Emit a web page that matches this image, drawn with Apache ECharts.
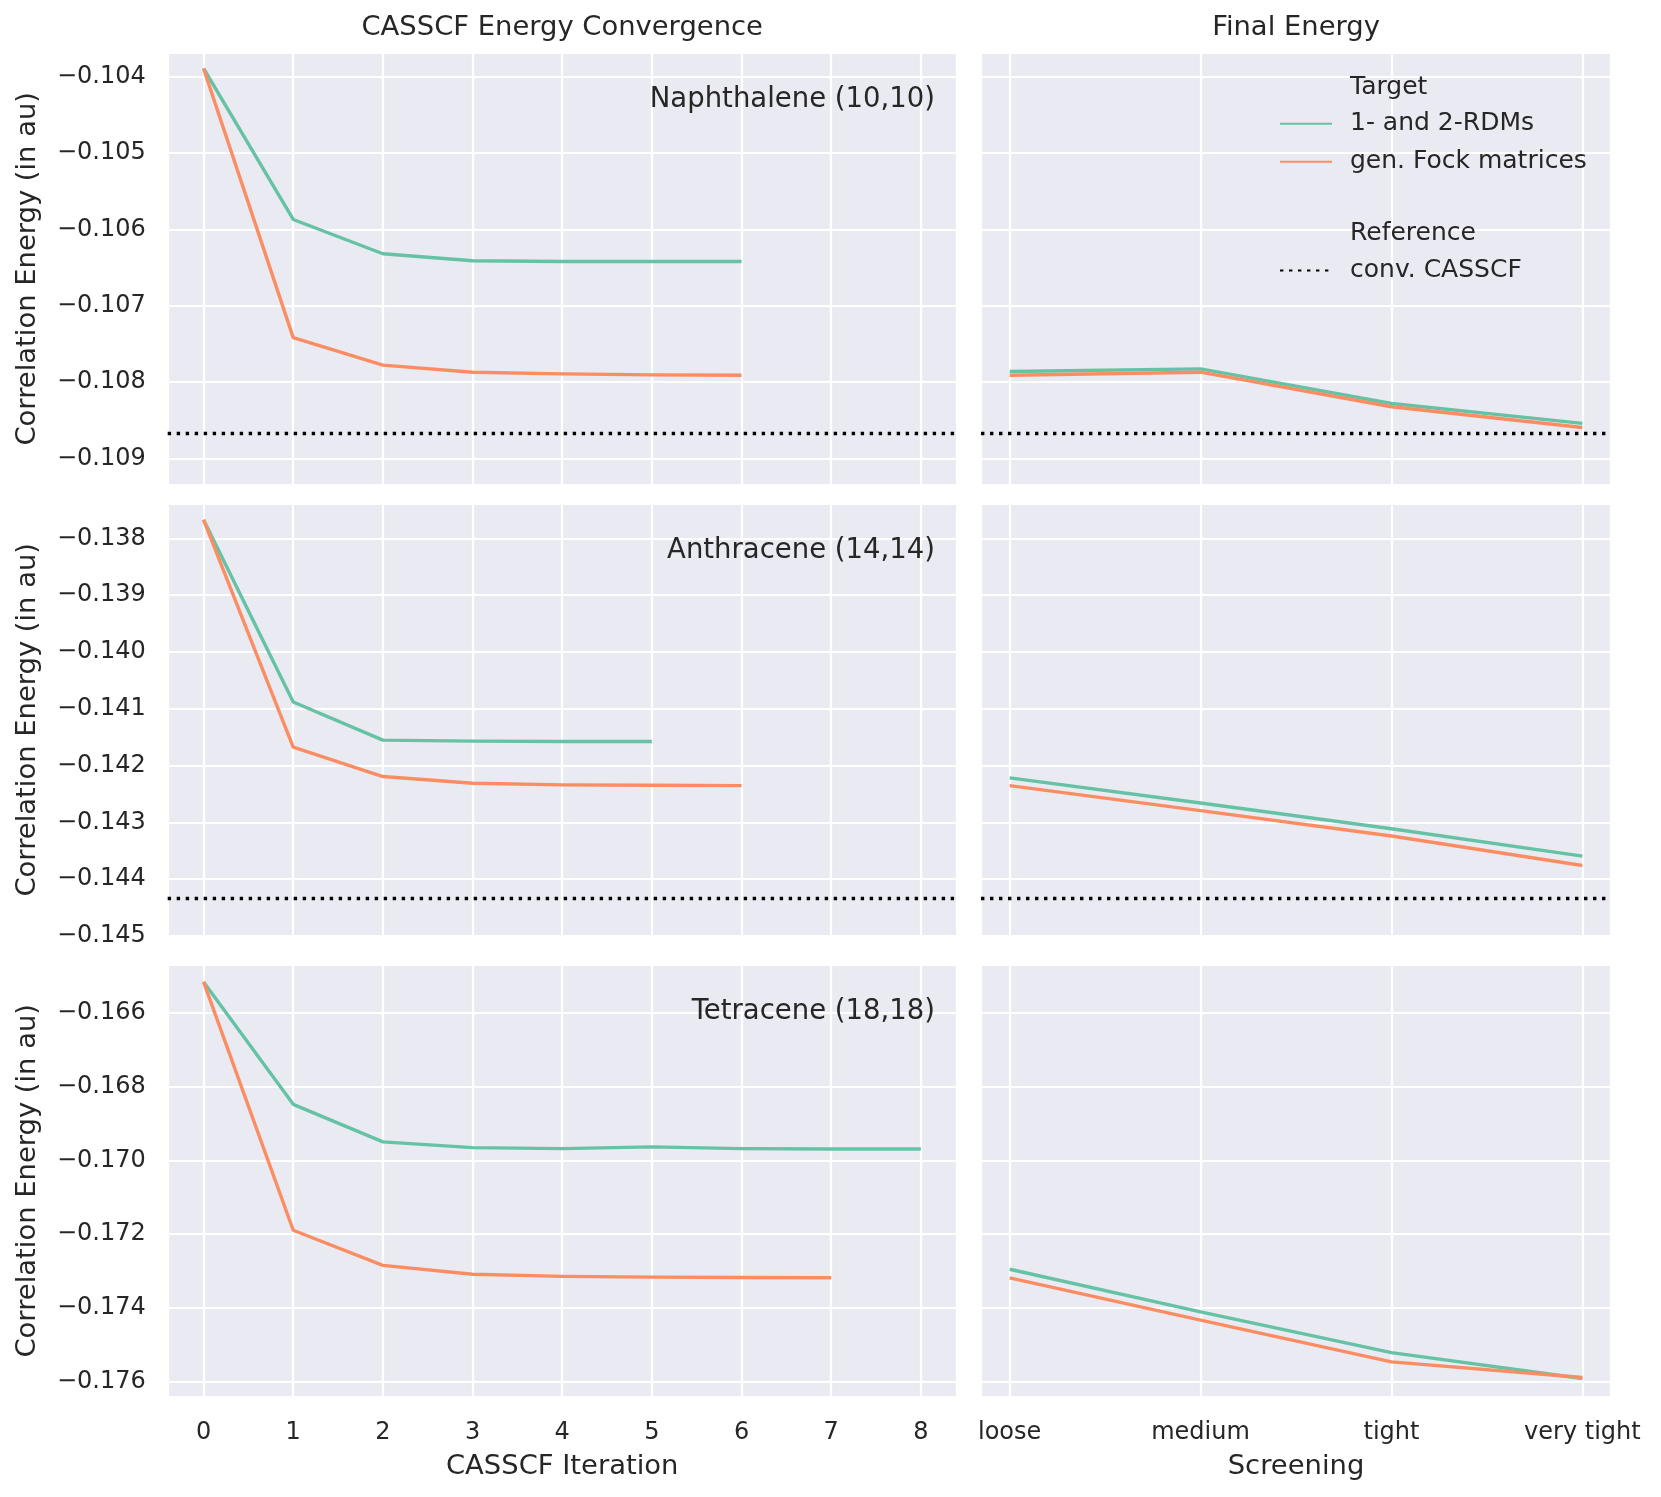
<!DOCTYPE html>
<html><head><meta charset="utf-8">
<script src="https://cdn.jsdelivr.net/npm/echarts@6/dist/echarts.min.js"></script>
<style>html,body{margin:0;padding:0;background:#fff}#c{width:1661px;height:1497px}</style>
</head><body><div id="c"></div>
<script>
// ---------------- data ----------------
const systems = ['Naphthalene (10,10)', 'Anthracene (14,14)', 'Tetracene (18,18)'];
const screening = ['loose', 'medium', 'tight', 'very tight'];
const seriesNames = ['1- and 2-RDMs', 'gen. Fock matrices'];
const refName = 'conv. CASSCF';

// CASSCF convergence (index = iteration)
const naphRDM  = [-0.103891, -0.105870, -0.106319, -0.106411, -0.106420, -0.106420, -0.106420];
const naphFock = [-0.103891, -0.107418, -0.107779, -0.107871, -0.107893, -0.107906, -0.107910];
const anthRDM  = [-0.137676, -0.140882, -0.141553, -0.141571, -0.141576, -0.141576];
const anthFock = [-0.137676, -0.141676, -0.142194, -0.142312, -0.142341, -0.142347, -0.142353];
const tetrRDM  = [-0.165175, -0.168486, -0.169503, -0.169657, -0.169685, -0.169637, -0.169685, -0.169695, -0.169695];
const tetrFock = [-0.165175, -0.171893, -0.172843, -0.173083, -0.173141, -0.173160, -0.173169, -0.173179];

// Final energy vs screening
const naphFinalRDM  = [-0.107862, -0.107827, -0.108281, -0.108542];
const naphFinalFock = [-0.107910, -0.107871, -0.108324, -0.108595];
const anthFinalRDM  = [-0.142218, -0.142660, -0.143112, -0.143594];
const anthFinalFock = [-0.142353, -0.142794, -0.143241, -0.143759];
const tetrFinalRDM  = [-0.172948, -0.174099, -0.175203, -0.175904];
const tetrFinalFock = [-0.173179, -0.174322, -0.175452, -0.175875];

// reference (conventional CASSCF); none shown for tetracene
const refEnergy = [-0.108673, -0.144341, null];

// y-axis limits per row and tick step
const yMin  = [-0.109349, -0.145,    -0.176403];
const yMax  = [-0.103682, -0.137388, -0.164704];
const yStep = [0.001, 0.001, 0.002];
const ySplit = [5, 7, 5];
const yShowMin = [false, true, false];

// x range of iteration / screening axes
const iterMin = -0.4, iterMax = 8.4;
const screenMin = -0.15, screenMax = 3.15;

// ---------------- layout / style ----------------
const colors = ['#66c2a5', '#fc8d62'];
const bg = '#eaeaf2';
const txt = '#262626';
const font = 'DejaVu Sans';
const lw = 3.4;
const dotted = [3.4, 5.6];
const colL = {left: 167.7, width: 789};
const colR = {left: 981, width: 630};
const rowTop = [52.5, 503.5, 964.5];
const rowH = 432.5;
const labelSize = 27.4;

const convData = [[naphRDM, naphFock], [anthRDM, anthFock], [tetrRDM, tetrFock]];
const finalData = [[naphFinalRDM, naphFinalFock], [anthFinalRDM, anthFinalFock], [tetrFinalRDM, tetrFinalFock]];

const grids = [], xAxes = [], yAxes = [], series = [];
const minus = s => s.replace('-', '\u2212');

for (let r = 0; r < 3; r++) {
  [colL, colR].forEach((col, c) => {
    grids.push({left: col.left, top: rowTop[r], width: col.width, height: rowH,
      show: true, backgroundColor: bg, borderWidth: 0, containLabel: false});
    const gi = r * 2 + c;
    const isBottom = r === 2;
    xAxes.push({
      type: 'value', gridIndex: gi,
      min: c === 0 ? iterMin : screenMin, max: c === 0 ? iterMax : screenMax,
      splitNumber: c === 0 ? 8 : 3,
      axisLine: {show: false}, axisTick: {show: false},
      splitLine: {show: true, lineStyle: {color: '#fff', width: 2.2}},
      axisLabel: {show: isBottom, showMinLabel: false, showMaxLabel: false,
        margin: 24, fontSize: 24, color: txt, fontFamily: font,
        formatter: v => {
          const k = Math.round(v);
          if (Math.abs(v - k) > 1e-6) return '';
          return c === 0 ? String(k) : (screening[k] || '');
        }},
      name: isBottom ? (c === 0 ? 'CASSCF Iteration' : 'Screening') : '',
      nameLocation: 'middle', nameGap: 56,
      nameTextStyle: {fontSize: labelSize, color: txt, fontFamily: font}
    });
    yAxes.push({
      type: 'value', gridIndex: gi, min: yMin[r], max: yMax[r], splitNumber: ySplit[r],
      axisLine: {show: false}, axisTick: {show: false},
      splitLine: {show: true, lineStyle: {color: '#fff', width: 2.2}},
      axisLabel: {show: c === 0, showMinLabel: yShowMin[r], showMaxLabel: false,
        margin: 22, fontSize: 24, color: txt, fontFamily: font,
        formatter: v => {
          const k = Math.round(v / yStep[r]);
          if (Math.abs(v - k * yStep[r]) > 1e-7) return '';
          return minus((k * yStep[r]).toFixed(3));
        }}
    });
    const sets = c === 0 ? convData[r] : finalData[r];
    sets.forEach((vals, s) => {
      const ser = {
        type: 'line', name: seriesNames[s], xAxisIndex: gi, yAxisIndex: gi,
        data: vals.map((v, i) => [i, v]),
        symbol: 'none', showSymbol: false, z: 3 + s,
        lineStyle: {color: colors[s], width: lw, cap: 'butt', join: 'round'},
        itemStyle: {color: colors[s]},
        emphasis: {disabled: true}
      };
      if (s === 0 && refEnergy[r] !== null) {
        ser.markLine = {silent: true, symbol: 'none', label: {show: false}, animation: false,
          precision: 8, z: 2,
          lineStyle: {color: '#000', width: lw, type: dotted, cap: 'butt', opacity: 1},
          emphasis: {disabled: true},
          data: [{yAxis: refEnergy[r]}]};
      }
      series.push(ser);
    });
  });
}
// legend-only series for the reference line style
series.push({
  type: 'line', name: refName, xAxisIndex: 0, yAxisIndex: 0, data: [],
  symbol: 'none',
  lineStyle: {color: '#000', width: lw, type: dotted, cap: 'butt'},
  itemStyle: {color: '#000'}
});

const graphic = [];
function addText(text, x, y, size, align, rot) {
  graphic.push({type: 'text', x: x, y: y, rotation: rot || 0, z: 100,
    style: {text: text, fontSize: size, fontFamily: font, fill: txt,
      align: align, verticalAlign: 'middle'}});
}
addText('CASSCF Energy Convergence', colL.left + colL.width / 2, 28, labelSize, 'center');
addText('Final Energy', colR.left + colR.width / 2, 28, labelSize, 'center');
for (let r = 0; r < 3; r++) {
  addText(systems[r], 935, rowTop[r] + 47.5, 27.5, 'right');
  addText('Correlation Energy (in au)', 27.6, rowTop[r] + rowH / 2, labelSize, 'center', Math.PI / 2);
}
addText('Target', 1350, 87, 25, 'left');
addText('Reference', 1350, 233.5, 25, 'left');

const legendBase = {orient: 'vertical', left: 1279, itemWidth: 52, itemHeight: 24, itemGap: 13,
  padding: 0, selectedMode: false,
  itemStyle: {opacity: 0, borderWidth: 0},
  textStyle: {fontSize: 25, color: txt, fontFamily: font, padding: [0, 0, 0, 13]}};

const chart = echarts.init(document.getElementById('c'));
chart.setOption({
  animation: false,
  backgroundColor: '#fff',
  grid: grids, xAxis: xAxes, yAxis: yAxes, series: series,
  legend: [
    Object.assign({}, legendBase, {top: 111.3, data: seriesNames}),
    Object.assign({}, legendBase, {top: 258, data: [refName]})
  ],
  graphic: graphic
});
</script></body></html>
